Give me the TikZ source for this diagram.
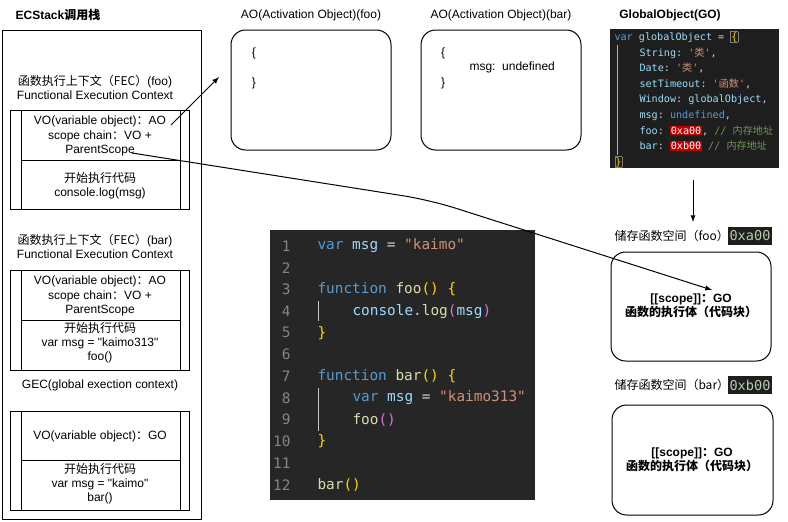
\documentclass[tikz,border=0pt]{standalone}
\usepackage{fontspec}
\setmainfont{Liberation Sans}[Ligatures=TeXOff]
\setmonofont{DejaVu Sans Mono}
\newfontfamily\cjk{Noto Sans CJK SC}
\usetikzlibrary{arrows.meta,positioning}
\definecolor{codebg}{HTML}{262626}
\definecolor{gobg}{HTML}{1E1E1E}
\definecolor{kwblue}{HTML}{569CD6}
\definecolor{varblue}{HTML}{9CDCFE}
\definecolor{strorange}{HTML}{CE9178}
\definecolor{fnyellow}{HTML}{DCDCAA}
\definecolor{bryellow}{HTML}{FFD700}
\definecolor{brpurple}{HTML}{DA70D6}
\definecolor{opgray}{HTML}{D4D4D4}
\definecolor{lngray}{HTML}{858585}
\definecolor{cmgreen}{HTML}{6A9955}
\definecolor{hlred}{HTML}{C00000}
\definecolor{addrgreen}{HTML}{B5CEA8}
\newcommand\kw[1]{\textcolor{kwblue}{#1}}
\newcommand\cvar[1]{\textcolor{varblue}{#1}}
\newcommand\cstr[1]{\textcolor{strorange}{#1}}
\newcommand\cfn[1]{\textcolor{fnyellow}{#1}}
\newcommand\cbr[1]{\textcolor{bryellow}{#1}}
\newcommand\cpu[1]{\textcolor{brpurple}{#1}}
\newcommand\cop[1]{\textcolor{opgray}{#1}}
\newcommand\ccm[1]{\textcolor{cmgreen}{#1}}
\newcommand\chl[1]{{\setlength\fboxsep{0.6pt}\colorbox{hlred}{\textcolor{white}{#1}}}}
\newcommand\stackframe[3]{%
  \draw (10,#1) rectangle (189,#3);
  \draw (21,#1) -- (21,#3) (180,#1) -- (180,#3) (21,#2) -- (180,#2);}
\tikzset{
  txt/.style={inner sep=0pt, align=center, font=\fontsize{9}{10.6}\selectfont},
  ttl/.style={txt, font=\bfseries\fontsize{9}{10.6}\selectfont},
  rbox/.style={draw, rounded corners=11pt},
  code/.style={inner sep=0pt, anchor=west, text=opgray, font=\ttfamily\fontsize{10.8}{12}\selectfont},
  lnum/.style={inner sep=0pt, anchor=east, text=lngray, font=\ttfamily\fontsize{10.8}{12}\selectfont},
  gocode/.style={inner sep=0pt, anchor=west, text=opgray, font=\ttfamily\fontsize{7.6}{9}\selectfont},
  addr/.style={fill=gobg, text=addrgreen, inner xsep=1.5pt, inner ysep=3pt, font=\ttfamily\fontsize{10.2}{11}\selectfont}
}
\begin{document}
\begin{tikzpicture}[x=0.75pt, y=-0.75pt, >=latex, line width=0.75pt]
\useasboundingbox (0,0) rectangle (788,521);

% ECStack
\node[ttl] (ecs) at (58,15) {ECStack{\cjk 调用栈}};
\draw (2,30) rectangle (201,519);

% FEC foo
\node[txt] (fecfoo) at (95,87) {{\cjk 函数执行上下文（FEC）}(foo)\\Functional Execution Context};
\stackframe{110}{160}{209}
\node[txt] (foovo) at (100,136) {VO(variable object){\cjk ：}AO\\scope chain{\cjk ：}VO +\\ParentScope};
\node[txt] (foorun) at (100,186) {{\cjk 开始执行代码}\\console.log(msg)};

% FEC bar
\node[txt] (fecbar) at (95,246) {{\cjk 函数执行上下文（FEC）}(bar)\\Functional Execution Context};
\stackframe{270}{320}{370}
\node[txt] (barvo) at (100,296) {VO(variable object){\cjk ：}AO\\scope chain{\cjk ：}VO +\\ParentScope};
\node[txt] (barrun) at (100,343) {{\cjk 开始执行代码}\\var msg = "kaimo313"\\foo()};

% GEC
\node[txt] (gec) at (100,385) {GEC(global exection context)};
\stackframe{411}{460}{510}
\node[txt] (gecvo) at (100,436) {VO(variable object){\cjk ：}GO};
\node[txt] (gecrun) at (100,484) {{\cjk 开始执行代码}\\var msg = "kaimo"\\bar()};

% AO boxes
\node[txt] (aofootl) at (311,15) {AO(Activation Object)(foo)};
\draw[rbox] (231,30) rectangle (391,150);
\node[txt] at (254,53) {\{};
\node[txt] at (254,83) {\}};
\node[txt] (aobartl) at (501,15) {AO(Activation Object)(bar)};
\draw[rbox] (421,30) rectangle (581,150);
\node[txt] at (443,53) {\{};
\node[txt, anchor=west] at (469,67) {msg:\ \ undefined};
\node[txt] at (443,83) {\}};

% GlobalObject
\node[ttl] (gotl) at (670,15) {GlobalObject(GO)};
\fill[gobg] (610,29) rectangle (779,168);
\draw[gray!60, line width=0.5pt] (617,45) -- (617,155);
\node[gocode] at (614,37) {\kw{var} \cvar{globalObject} = {\setlength\fboxsep{0.3pt}\fcolorbox{gray}{gobg}{\cbr{\{}}}};
\node[gocode] at (639,53) {\cvar{String}: \cstr{'{\cjk 类}'},};
\node[gocode] at (639,68) {\cvar{Date}: \cstr{'{\cjk 类}'},};
\node[gocode] at (639,84) {\cvar{setTimeout}: \cstr{'{\cjk 函数}'},};
\node[gocode] at (639,100) {\cvar{Window}: \cvar{globalObject},};
\node[gocode] at (639,116) {\cvar{msg}: \kw{undefined},};
\node[gocode] at (639,131) {\cvar{foo}: \chl{0xa00}, \ccm{// {\cjk 内存地址}}};
\node[gocode] at (639,146) {\cvar{bar}: \chl{0xb00} \ccm{// {\cjk 内存地址}}};
\node[gocode] at (614,162) {{\setlength\fboxsep{0.3pt}\fcolorbox{gray}{gobg}{\cbr{\}}}}};
\coordinate (gobot) at (693,180);

% storage foo
\node[txt, anchor=west] (stfootl) at (614,236) {{\cjk 储存函数空间（foo）}};
\node[addr, anchor=west] (adrfoo) at (727,236) {0xa00};
\draw[rbox] (611,252) rectangle (771,361);
\node[ttl] (stfoo) at (691,306) {[[scope]]{\cjk ：}GO\\{\cjk 函数的执行体（代码块）}};
\coordinate (sttop) at (693,222);

% storage bar
\node[txt, anchor=west] (stbartl) at (614,385) {{\cjk 储存函数空间（bar）}};
\node[addr, anchor=west] (adrbar) at (727,385) {0xb00};
\draw[rbox] (612,405) rectangle (773,515);
\node[ttl] (stbar) at (692,460) {[[scope]]{\cjk ：}GO\\{\cjk 函数的执行体（代码块）}};

% code
\fill[codebg] (270,230) rectangle (535,500);
\draw[gray!45, line width=0.5pt] (318,301) -- (318,321) (318,388) -- (318,431);
\foreach \n in {1,...,12}
  \node[lnum] (ln\n) at (291,{246+21.7*(\n-1)}) {\n};
\node[code] (c1) at (317,246) {\kw{var} \cvar{msg} = \cstr{"kaimo"}};
\node[code] (c3) at (317,289.4) {\kw{function} \cfn{foo}\cbr{()} \cbr{\{}};
\node[code] (c4) at (352,311.1) {\cvar{console}.\cfn{log}\cpu{(}\cvar{msg}\cpu{)}};
\node[code] (c5) at (317,332.8) {\cbr{\}}};
\node[code] (c7) at (317,376.2) {\kw{function} \cfn{bar}\cbr{()} \cbr{\{}};
\node[code] (c8) at (352,397.9) {\kw{var} \cvar{msg} = \cstr{"kaimo313"}};
\node[code] (c9) at (352,419.6) {\cfn{foo}\cpu{()}};
\node[code] (c10) at (317,441.3) {\cbr{\}}};
\node[code] (c12) at (317,484.7) {\cfn{bar}\cbr{()}};

% arrows
\coordinate (aofrom) at (171,125);
\coordinate (aoto) at (219,77);
\draw[->] (aofrom) -- (aoto);
\coordinate (psfrom) at (132,153);
\coordinate (psbend) at (430,200);
\coordinate (psto) at (712,290);
\draw[->, rounded corners=20pt] (psfrom) -- (psbend) -- (psto);
\draw[->] (gobot) -- (sttop);
\end{tikzpicture}
\end{document}
